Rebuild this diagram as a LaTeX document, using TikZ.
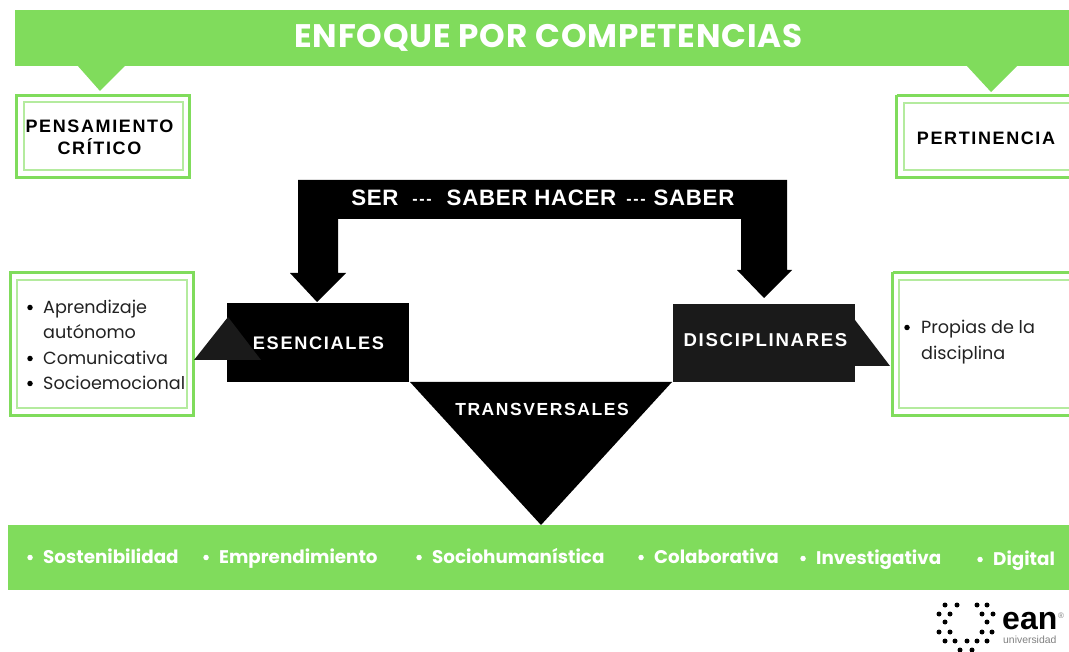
\documentclass[tikz,border=0pt]{standalone}
\usepackage{fontspec}
\setmainfont{Poppins}
\newfontfamily\labfont[LetterSpace=9]{Liberation Sans}
\newfontfamily\barfont[LetterSpace=3]{Liberation Sans}
\newfontfamily\dashfont[LetterSpace=10]{Liberation Sans}
\newfontfamily\plainsans{Liberation Sans}
\newfontfamily\titlefont[LetterSpace=2.5]{Poppins}
\definecolor{eangreen}{HTML}{80DC5C}
\definecolor{eanlight}{HTML}{B4EB9E}
\definecolor{darkbox}{HTML}{1A1A1A}
\definecolor{bodytext}{HTML}{222222}
\newcommand{\labsize}[1]{\labfont\bfseries\fontsize{#1}{22}\selectfont}
\tikzset{
  greenfill/.style={fill=eangreen,draw=none},
  outerframe/.style={draw=eangreen,line width=3pt,fill=white},
  innerframe/.style={draw=eanlight,line width=1.4pt},
  boxlabel/.style={text=black,align=center,inner sep=0pt},
  whitelabel/.style={text=white,inner sep=0pt},
  listtext/.style={font=\fontsize{17.6}{25}\selectfont,text=bodytext,align=left,inner sep=0pt,anchor=base west},
  bandtext/.style={font=\bfseries\fontsize{18.3}{20}\selectfont,text=white,inner sep=0pt,anchor=base west},
  bartext/.style={inner sep=0pt,text=white,font=\barfont\bfseries\fontsize{22.3}{26}\selectfont,anchor=base},
  dashtext/.style={inner sep=0pt,text=white,font=\dashfont\bfseries\fontsize{16}{26}\selectfont,anchor=base},
  bullet/.style={circle,fill=#1,draw=none,minimum size=5.5pt,inner sep=0pt},
  logodot/.style={circle,fill=black,draw=none,minimum size=5pt,inner sep=0pt},
}
\begin{document}
\begin{tikzpicture}[x=1pt,y=-1pt]
\useasboundingbox (0,0) rectangle (1069,652);
% banner
\fill[greenfill] (15,10) rectangle (1069,66);
\fill[greenfill] (77,65) -- (126,65) -- (100,91) -- cycle;
\fill[greenfill] (966,65) -- (1018,65) -- (991,92) -- cycle;
\node[inner sep=0pt,text=white,anchor=base,font=\titlefont\bfseries\fontsize{32.6}{34}\selectfont] (title) at (548.5,47.5) {ENFOQUE POR COMPETENCIAS};
% top frames
\draw[outerframe] (16.5,95.5) rectangle (189.5,177.5);
\draw[innerframe] (24,102) rectangle (183,170);
\node[boxlabel,font=\labsize{18}] (pens) at (99.5,137.5) {PENSAMIENTO\\CRÍTICO};
\draw[outerframe] (896.5,95.5) -- (1069,95.5) (896.5,95.5) -- (896.5,177.5) -- (1069,177.5);
\draw[innerframe] (1069,103) -- (904,103) -- (904,170) -- (1069,170);
\node[boxlabel,font=\labsize{18}] (pert) at (986,138) {PERTINENCIA};
% list frames
\draw[outerframe] (10.5,272.5) rectangle (193.5,415.5);
\draw[innerframe] (17,280) rectangle (187,408);
\draw[outerframe] (892.5,272.5) -- (1069,272.5) (892.5,272.5) -- (892.5,415.5) -- (1069,415.5);
\draw[innerframe] (1069,280) -- (899,280) -- (899,408) -- (1069,408);
\node[listtext] (apr) at (43,314) {Aprendizaje};
\node[listtext] (aut) at (43,339) {autónomo};
\node[listtext] (com) at (43,365) {Comunicativa};
\node[listtext] (soc) at (43,390) {Socioemocional};
\node[bullet=black] (b1) at (30,307.5) {};
\node[bullet=black] (b2) at (30,358.5) {};
\node[bullet=black] (b3) at (30,383.5) {};
\node[listtext] (pro) at (921,334) {Propias de la};
\node[listtext] (dis) at (921,360) {disciplina};
\node[bullet=black] (b4) at (907,327.5) {};
% black double arrow
\fill[black] (298,180) -- (787,180) -- (787,270) -- (792,270) -- (764,298) -- (737,270) -- (741,270)
  -- (741,219) -- (338,219) -- (338,273) -- (346,273) -- (317,302) -- (290,273) -- (298,273) -- cycle;
\node[bartext] (ser) at (375,206) {SER};
\node[dashtext] (d1) at (422,205) {---};
\node[bartext] (sh) at (531.5,206) {SABER HACER};
\node[dashtext] (d2) at (636,205) {---};
\node[bartext] (sa) at (694,206) {SABER};
% competence shapes
\fill[black] (227,303) rectangle (409,382);
\fill[darkbox] (228,317) -- (261,360) -- (194,360) -- cycle;
\node[whitelabel,font=\labsize{18.2}] (ese) at (318.5,343) {ESENCIALES};
\fill[darkbox] (673,304) rectangle (855,382);
\fill[darkbox] (855,320) -- (890,366) -- (855,366) -- cycle;
\node[whitelabel,font=\labsize{18.6}] (disc) at (765.5,340.5) {DISCIPLINARES};
\fill[black] (410,382) -- (672,382) -- (541,525) -- cycle;
\node[whitelabel,font=\labsize{17.5}] (tra) at (542,409.5) {TRANSVERSALES};
% bottom band
\fill[greenfill] (8,525) rectangle (1069,590);
\foreach \bx/\nm/\tx/\by in {43/s1/Sostenibilidad/563,219/s2/Emprendimiento/563,432/s3/Sociohumanística/563,654/s4/Colaborativa/563,816/s5/Investigativa/564,993/s6/Digital/565}{
  \node[bandtext] (\nm) at (\bx,\by) {\tx};
  \node[bullet=white,anchor=east] (\nm b) at ({\bx-10},{\by-5.5}) {};
}
% logo
\foreach \i/\px/\py in {1/945/605,2/957/605,3/977/605,4/987/605,5/939/614,6/950/614,7/982/614,8/993/614,9/945/622,10/987/622,11/939/632,12/950/632,13/982/632,14/992/632,15/945/641,16/955/641,17/967/641,18/977/641,19/987/641,20/960/650,21/972/650}{
  \node[logodot] (ld\i) at (\px,\py) {};
}
\node[inner sep=0pt,anchor=base west,font=\plainsans\bfseries\fontsize{32}{32}\selectfont,text=black] (ean) at (1002,629) {ean};
\node[inner sep=0pt,anchor=base west,font=\plainsans\fontsize{10.4}{10}\selectfont,text=gray] (uni) at (1003,643) {universidad};
\node[inner sep=0pt,font=\plainsans\fontsize{8}{8}\selectfont,text=gray] (reg) at (1061,616) {®};
\end{tikzpicture}
\end{document}
